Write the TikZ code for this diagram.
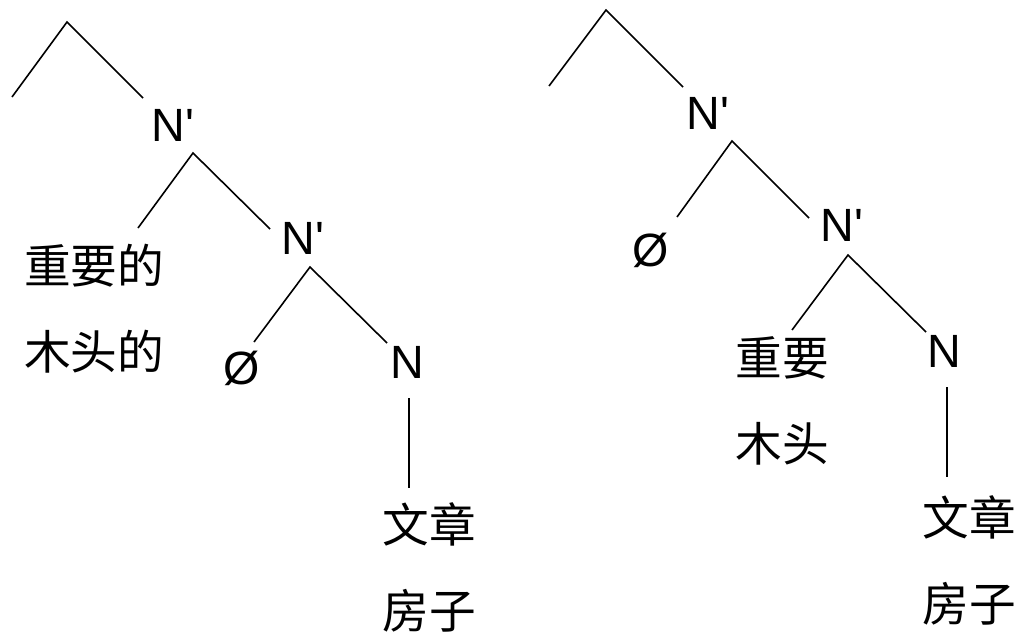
\documentclass[tikz,border=0pt]{standalone}
\usepackage{fontspec}
\newfontfamily\arial{Liberation Sans}
\newfontfamily\cjk{Noto Sans CJK SC}

\begin{document}
\begin{tikzpicture}[x=0.75pt,y=-0.75pt,line width=1.2pt,
	lab/.style={font=\arial\fontsize{35}{42}\selectfont,inner sep=0pt},
	word/.style={font=\cjk\fontsize{35}{64.5}\selectfont,align=center,inner sep=0pt}]
	\useasboundingbox (0,0) rectangle (1016,635);
	%LEFT TREE
	\coordinate (top1) at (67,22);
	\coordinate (l1) at (12,97);
	\node[lab] (np1) at (173,125) {N'};
	\node[word] (c1) at (94,309) {重要的\\木头的};
	\node[lab] (np2) at (303,238) {N'};
	\node[lab] (e1) at (242,368) {Ø};
	\node[lab] (n1) at (407,362) {N};
	\node[word] (w1) at (429,567) {文章\\房子};
	\draw (l1) -- (top1) -- ([shift={(-30,-27)}]np1.center);
	\draw ([shift={(44,-81)}]c1.center) -- ([shift={(20,28)}]np1.center) -- ([shift={(-33,-9)}]np2.center);
	\draw ([shift={(12,-26)}]e1.center) -- ([shift={(7,29)}]np2.center) -- ([shift={(-20,-19)}]n1.center);
	\draw ([shift={(2,36)}]n1.center) -- ([shift={(-20,-79)}]w1.center);
	%RIGHT TREE
	\coordinate (top2) at (606,10);
	\coordinate (l2) at (549,86);
	\node[lab] (np3) at (708,113) {N'};
	\node[lab] (e2) at (651,250) {Ø};
	\node[lab] (np4) at (842,225) {N'};
	\node[word] (c2) at (782,401) {重要\\木头};
	\node[lab] (n2) at (944,351) {N};
	\node[word] (w2) at (969,560) {文章\\房子};
	\draw (l2) -- (top2) -- ([shift={(-25,-26)}]np3.center);
	\draw ([shift={(26,-33)}]e2.center) -- ([shift={(24,28)}]np3.center) -- ([shift={(-33,-7)}]np4.center);
	\draw ([shift={(10,-71)}]c2.center) -- ([shift={(6,30)}]np4.center) -- ([shift={(-18,-19)}]n2.center);
	\draw ([shift={(3,36)}]n2.center) -- ([shift={(-22,-83)}]w2.center);
\end{tikzpicture}
\end{document}
